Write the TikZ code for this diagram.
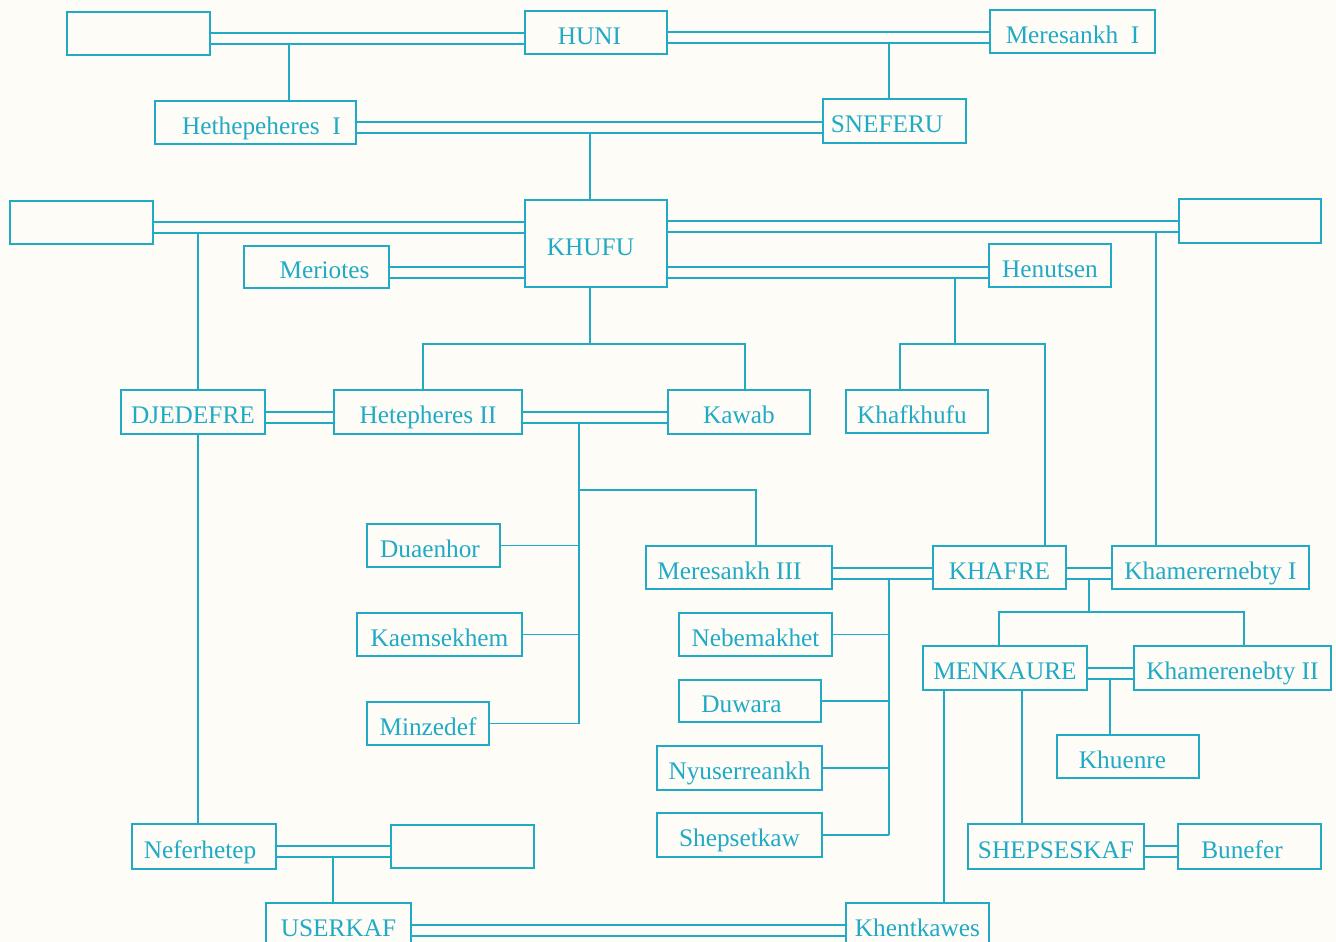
\documentclass[tikz,border=0pt]{standalone}
\usepackage{fontspec}
\setmainfont{Liberation Serif}
\definecolor{egc}{RGB}{32,170,198}
\definecolor{bgc}{RGB}{253,252,246}

\begin{document}
\begin{tikzpicture}[x=0.2mm,y=-0.2mm,
  box/.style={draw=egc,line width=1pt,text=egc,inner sep=0pt,minimum height=43*0.2mm,
    text height=13.5pt,text depth=0pt,font=\fontsize{14.4}{17}\selectfont},
  kin/.style={draw=egc,line width=1pt},
  wed/.style={kin,postaction={draw=egc,line width=1pt,transform canvas={yshift=-2.2mm}}}]
\useasboundingbox (0,0) rectangle (1336,942);
\clip (0,0) rectangle (1336,942);
\fill[bgc] (0,0) rectangle (1336,942);
% people
\node[box,minimum width=143*0.2mm] (BlankA) at (138.5,33.5) {};
\node[box,minimum width=142*0.2mm] (Huni) at (596,32.5) {HUNI\hspace*{2.6mm}};
\node[box,minimum width=165*0.2mm] (MeresankhI) at (1072.5,31.5) {Meresankh\ \ I};
\node[box,minimum width=201*0.2mm] (HethI) at (255.5,122.5) {\hspace*{2.4mm}Hethepeheres\ \ I};
\node[box,minimum width=143*0.2mm,minimum height=44*0.2mm] (Sneferu) at (894.5,121) {SNEFERU\hspace*{3mm}};
\node[box,minimum width=143*0.2mm] (BlankB) at (81.5,222.5) {};
\node[box,minimum width=142*0.2mm,minimum height=87*0.2mm] (Khufu) at (596,243.5) {KHUFU\hspace*{2.2mm}};
\node[box,minimum width=142*0.2mm,minimum height=44*0.2mm] (BlankC) at (1250,221) {};
\node[box,minimum width=145*0.2mm,minimum height=42*0.2mm] (Meriotes) at (316.5,267) {\hspace*{3.2mm}Meriotes};
\node[box,minimum width=122*0.2mm] (Henutsen) at (1050,265.5) {Henutsen};
\node[box,minimum width=144*0.2mm,minimum height=44*0.2mm] (Djedefre) at (193,412) {DJEDEFRE};
\node[box,minimum width=188*0.2mm,minimum height=44*0.2mm] (HetII) at (428,412) {Hetepheres II};
\node[box,minimum width=142*0.2mm,minimum height=44*0.2mm] (Kawab) at (739,412) {Kawab};
\node[box,minimum width=142*0.2mm] (Khafkhufu) at (917,411.5) {Khafkhufu\hspace*{2mm}};
\node[box,minimum width=133*0.2mm] (Duaenhor) at (433.5,545.5) {Duaenhor\hspace*{1.4mm}};
\node[box,minimum width=186*0.2mm] (MeresankhIII) at (739,567.5) {Meresankh III\hspace*{3.8mm}};
\node[box,minimum width=133*0.2mm] (Khafre) at (999.5,567.5) {KHAFRE};
\node[box,minimum width=197*0.2mm] (KhamI) at (1210.5,567.5) {Khamerernebty I};
\node[box,minimum width=165*0.2mm] (Kaemsekhem) at (439.5,634.5) {Kaemsekhem};
\node[box,minimum width=153*0.2mm] (Nebemakhet) at (755.5,634.5) {Nebemakhet};
\node[box,minimum width=164*0.2mm,minimum height=44*0.2mm] (Menkaure) at (1005,668) {MENKAURE};
\node[box,minimum width=197*0.2mm,minimum height=44*0.2mm] (KhamII) at (1232.5,668) {Khamerenebty II};
\node[box,minimum width=142*0.2mm,minimum height=42*0.2mm] (Duwara) at (750,701) {Duwara\hspace*{3.4mm}};
\node[box,minimum width=122*0.2mm] (Minzedef) at (428,723.5) {Minzedef};
\node[box,minimum width=142*0.2mm] (Khuenre) at (1128,756.5) {Khuenre\hspace*{2.2mm}};
\node[box,minimum width=165*0.2mm,minimum height=44*0.2mm] (Nyuserreankh) at (739.5,768) {Nyuserreankh};
\node[box,minimum width=165*0.2mm,minimum height=44*0.2mm] (Shepsetkaw) at (739.5,835) {Shepsetkaw};
\node[box,minimum width=144*0.2mm,minimum height=45*0.2mm] (Neferhetep) at (204,846.5) {Neferhetep\hspace*{1.6mm}};
\node[box,minimum width=143*0.2mm] (BlankD) at (462.5,846.5) {};
\node[box,minimum width=176*0.2mm,minimum height=45*0.2mm] (Shepseskaf) at (1056,846.5) {SHEPSESKAF};
\node[box,minimum width=143*0.2mm,minimum height=45*0.2mm] (Bunefer) at (1249.5,846.5) {Bunefer\hspace*{3mm}};
\node[box,minimum width=145*0.2mm] (Userkaf) at (338.5,924.5) {USERKAF};
\node[box,minimum width=143*0.2mm] (Khentkawes) at (917.5,924.5) {Khentkawes};
% marriages (upper line; the lower one is 11 px below)
\coordinate (mA) at (0,33);
\coordinate (mB) at (0,32);
\coordinate (mC) at (0,122);
\coordinate (mD) at (0,222);
\coordinate (mE) at (0,221);
\coordinate (mF) at (0,267);
\coordinate (mH) at (0,412);
\coordinate (mJ) at (0,568);
\coordinate (mL) at (0,668);
\coordinate (mM) at (0,846);
\coordinate (mO) at (0,925);
\draw[wed] (BlankA.east |- mA) -- (Huni.west |- mA);
\draw[wed] (Huni.east |- mB) -- (MeresankhI.west |- mB);
\draw[wed] (HethI.east |- mC) -- (Sneferu.west |- mC);
\draw[wed] (BlankB.east |- mD) -- (Khufu.west |- mD);
\draw[wed] (Khufu.east |- mE) -- (BlankC.west |- mE);
\draw[wed] (Meriotes.east |- mF) -- (Khufu.west |- mF);
\draw[wed] (Khufu.east |- mF) -- (Henutsen.west |- mF);
\draw[wed] (Djedefre.east |- mH) -- (HetII.west |- mH);
\draw[wed] (HetII.east |- mH) -- (Kawab.west |- mH);
\draw[wed] (MeresankhIII.east |- mJ) -- (Khafre.west |- mJ);
\draw[wed] (Khafre.east |- mJ) -- (KhamI.west |- mJ);
\draw[wed] (Menkaure.east |- mL) -- (KhamII.west |- mL);
\draw[wed] (Neferhetep.east |- mM) -- (BlankD.west |- mM);
\draw[wed] (Shepseskaf.east |- mM) -- (Bunefer.west |- mM);
\draw[wed] (Userkaf.east |- mO) -- (Khentkawes.west |- mO);
% descent
\coordinate (dA) at (289,44);
\draw[kin] (dA) -- (dA |- HethI.north);
\coordinate (dB) at (889,43);
\draw[kin] (dB) -- (dB |- Sneferu.north);
\coordinate (dC) at (590,133);
\draw[kin] (dC) -- (dC |- Khufu.north);
\coordinate (dD) at (198,233);
\draw[kin] (dD) -- (dD |- Djedefre.north);
\draw[kin] (dD |- Djedefre.south) -- (dD |- Neferhetep.north);
\coordinate (dE) at (1156,232);
\draw[kin] (dE) -- (dE |- KhamI.north);
% Henutsen's children
\coordinate (dF) at (955,278);
\coordinate (bFl) at (900,344);
\coordinate (bFr) at (1045,344);
\draw[kin] (dF) -- (dF |- bFl);
\draw[kin] (bFl |- Khafkhufu.north) -- (bFl) -- (bFr) -- (bFr |- Khafre.north);
% Khufu's children
\coordinate (dG) at (590,344);
\coordinate (bGl) at (423,344);
\coordinate (bGr) at (745,344);
\draw[kin] (dG |- Khufu.south) -- (dG);
\draw[kin] (bGl |- HetII.north) -- (bGl) -- (bGr) -- (bGr |- Kawab.north);
% Kawab and Hetepheres II
\coordinate (dH) at (579,423);
\coordinate (bH) at (756,490);
\draw[kin] (dH) -- (dH |- Minzedef.east);
\draw[kin] (dH |- bH) -- (bH) -- (bH |- MeresankhIII.north);
\draw[kin] (Duaenhor.east) -- (Duaenhor.east -| dH);
\draw[kin] (Kaemsekhem.east) -- (Kaemsekhem.east -| dH);
\draw[kin] (Minzedef.east) -- (Minzedef.east -| dH);
% Khafre and Meresankh III
\coordinate (dJ) at (889,579);
\draw[kin] (dJ) -- (dJ |- Shepsetkaw.east);
\draw[kin] (Nebemakhet.east) -- (Nebemakhet.east -| dJ);
\draw[kin] (Duwara.east) -- (Duwara.east -| dJ);
\draw[kin] (Nyuserreankh.east) -- (Nyuserreankh.east -| dJ);
\draw[kin] (Shepsetkaw.east) -- (Shepsetkaw.east -| dJ);
% Khafre and Khamerernebty I
\coordinate (dK) at (1089,579);
\coordinate (bKl) at (999,612);
\coordinate (bKr) at (1244,612);
\draw[kin] (dK) -- (dK |- bKl);
\draw[kin] (bKl |- Menkaure.north) -- (bKl) -- (bKr) -- (bKr |- KhamII.north);
% Menkaure
\coordinate (dL) at (1110,679);
\draw[kin] (dL) -- (dL |- Khuenre.north);
\coordinate (dMa) at (944,690);
\draw[kin] (dMa |- Menkaure.south) -- (dMa |- Khentkawes.north);
\coordinate (dMb) at (1022,690);
\draw[kin] (dMb |- Menkaure.south) -- (dMb |- Shepseskaf.north);
% Neferhetep
\coordinate (dN) at (333,857);
\draw[kin] (dN) -- (dN |- Userkaf.north);
\end{tikzpicture}
\end{document}
